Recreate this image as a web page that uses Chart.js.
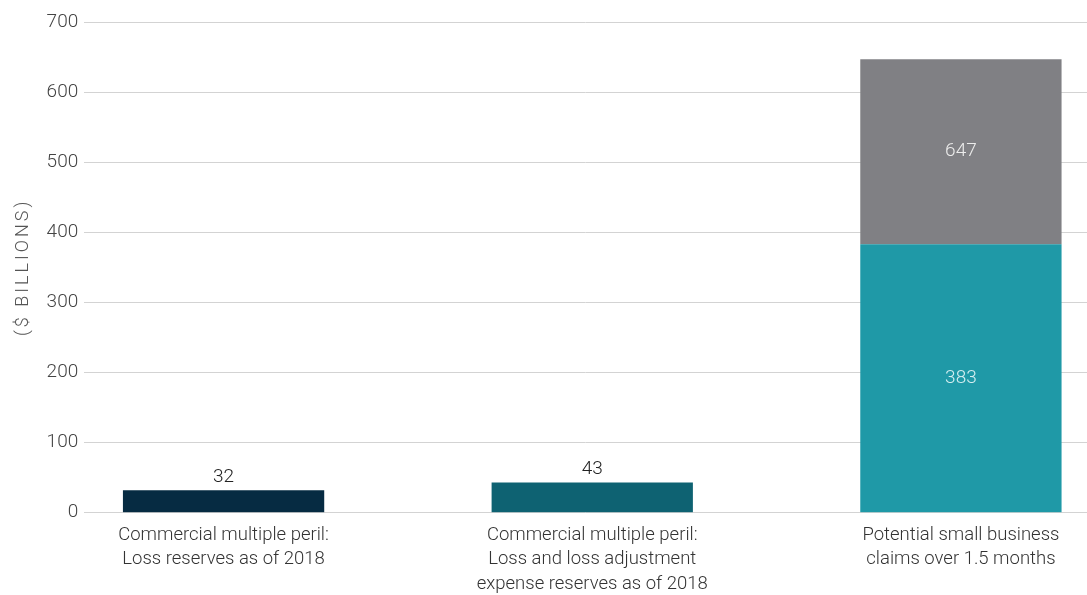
<!DOCTYPE html>
<html>
<head>
<meta charset="utf-8">
<script src="https://cdn.jsdelivr.net/npm/chart.js@4.4.0/dist/chart.umd.min.js"></script>
<style>
  html, body { margin:0; padding:0; background:#fff; }
  #wrap { width:1087px; height:595px; position:relative; }
</style>
</head>
<body>
<div id="wrap"><canvas id="chart-reservas"></canvas></div>
<script>
// ============ DADOS ============
var categorias = [
  ['Commercial multiple peril:', 'Loss reserves as of 2018'],
  ['Commercial multiple peril:', 'Loss and loss adjustment', 'expense reserves as of 2018'],
  ['Potential small business', 'claims over 1.5 months']
];
var valoresBase = [32, 43, 383];        // barra inteira ou parte de baixo
var valoresTopo = [null, null, 264];    // parte cinza (647 - 383)
var rotulosBase = ['32', '43', '383'];
var rotulosTopo = [null, null, '647'];
var coresBase = ['#062b42', '#0e6272', '#1f99a7'];
var corTopo = '#808084';
var ticksY = [0, 100, 200, 300, 400, 500, 600, 700];

var pontos = function(arr) {
  var out = [];
  arr.forEach(function(v, i) { if (v !== null) out.push({ x: i, y: v }); });
  return out;
};

// espaçamento entre letras só no título do eixo y (camada z=0)
var pluginEspaco = {
  id: 'espaco',
  beforeDraw: function(chart) { chart.ctx.letterSpacing = '3px'; },
  beforeDatasetsDraw: function(chart) { chart.ctx.letterSpacing = '0px'; }
};

// rótulos em cima / dentro das barras
var pluginRotulos = {
  id: 'rotulos',
  afterDatasetsDraw: function(chart) {
    var ctx = chart.ctx;
    ctx.save();
    ctx.textAlign = 'center';
    ctx.textBaseline = 'middle';
    ctx.font = '300 19px Roboto';
    chart.getDatasetMeta(0).data.forEach(function(bar, i) {
      if (i === 2) {
        ctx.fillStyle = '#d6eff1';
        ctx.fillText(rotulosBase[i], bar.x, (bar.y + bar.base) / 2);
      } else {
        ctx.fillStyle = '#222';
        ctx.fillText(rotulosBase[i], bar.x, bar.y - 13);
      }
    });
    var idxTopo = pontos(valoresTopo);
    chart.getDatasetMeta(1).data.forEach(function(bar, j) {
      ctx.fillStyle = '#ececec';
      ctx.fillText(rotulosTopo[idxTopo[j].x], bar.x, (bar.y + bar.base) / 2);
    });
    ctx.restore();
  }
};

var canvas = document.getElementById('chart-reservas');
new Chart(canvas, {
  type: 'bar',
  data: {
    datasets: [{
      label: 'base',
      data: pontos(valoresBase),
      backgroundColor: coresBase,
      borderWidth: 0,
      barPercentage: 0.546,
      categoryPercentage: 1
    }, {
      label: 'topo',
      data: pontos(valoresTopo),
      backgroundColor: corTopo,
      borderWidth: 0,
      barPercentage: 0.546,
      categoryPercentage: 1
    }]
  },
  plugins: [pluginEspaco, pluginRotulos],
  options: {
    responsive: true,
    maintainAspectRatio: false,
    animation: false,
    layout: { padding: { top: 22, right: 0, left: 13, bottom: -4 } },
    plugins: { legend: { display: false }, tooltip: { enabled: false } },
    scales: {
      x: {
        type: 'linear',
        stacked: true,
        offset: false,
        min: -0.378,
        max: 2.342,
        afterBuildTicks: function(scale) {
          scale.ticks = categorias.map(function(c, i) { return { value: i }; });
        },
        ticks: {
          autoSkip: false,
          maxRotation: 0,
          padding: 2,
          z: 1,
          color: '#333',
          font: { family: 'Roboto', size: 18.5, weight: '300', lineHeight: 1.34 },
          callback: function(v) { return categorias[v]; }
        },
        grid: { display: false },
        border: { display: false }
      },
      y: {
        stacked: true,
        min: 0,
        max: 700,
        afterBuildTicks: function(scale) {
          scale.ticks = ticksY.map(function(v) { return { value: v }; });
        },
        ticks: {
          color: '#444',
          padding: 6,
          z: 1,
          font: { family: 'Roboto', size: 19, weight: '300' }
        },
        grid: { color: '#d3d3d3', lineWidth: 1, drawTicks: false },
        border: { display: false },
        title: {
          display: true,
          text: '($ BILLIONS)',
          color: '#555',
          padding: { top: 0, bottom: 6 },
          font: { family: 'Roboto', size: 18, weight: '300' }
        }
      }
    }
  }
});
</script>
</body>
</html>
